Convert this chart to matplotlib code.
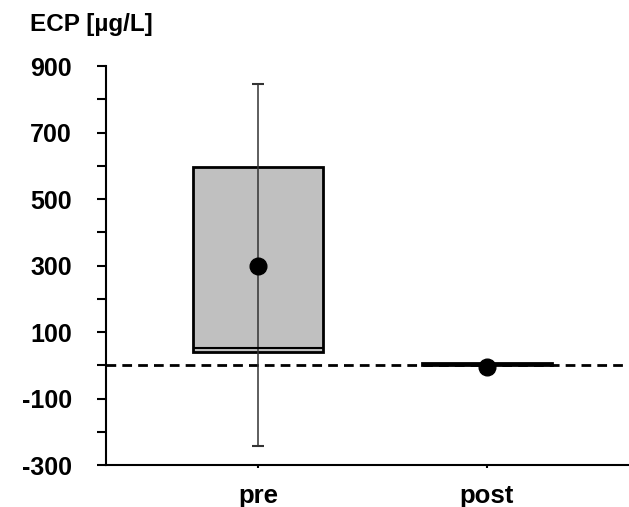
import matplotlib.pyplot as plt

# Daten
groups = ["pre", "post"]
q1 = [39, 0]
q3 = [595, 8]
median = [51, 3]
mean = [300, -6]
whisk_lo = [-244, 0]
whisk_hi = [845, 8]
yticks_major = [-300, -100, 100, 300, 500, 700, 900]
yticks_minor = [-200, 0, 200, 400, 600, 800]

plt.rcParams["font.family"] = ["Liberation Sans", "DejaVu Sans"]
plt.rcParams["font.weight"] = "bold"

fig = plt.figure(figsize=(6.29, 5.07), dpi=100)
ax = fig.add_axes([0.1685, 0.0828, 0.8315, 0.787])

x = [1, 2]
ax.axhline(0, color="black", lw=2, ls=(0, (3.5, 2.2)), zorder=1)

ax.bar(x, [h - l for h, l in zip(q3, q1)], bottom=q1, width=0.57,
       color="#c0c0c0", edgecolor="black", linewidth=2, zorder=2)
# Whisker (gehen durch die Box)
ax.vlines(x, whisk_lo, whisk_hi, color="#333333", lw=1.1, zorder=3)
ax.plot(x, whisk_lo, "_", color="#333333", markersize=8, mew=1.5, zorder=3)
ax.plot(x, whisk_hi, "_", color="#333333", markersize=8, mew=1.5, zorder=3)
ax.hlines(median, [xi - 0.285 for xi in x], [xi + 0.285 for xi in x],
          color="black", lw=1.5, zorder=4)
ax.plot(x, mean, "o", color="black", markersize=12, zorder=5)

ax.set_xlim(0.336, 2.62)
ax.set_ylim(-300, 900)
ax.set_xticks(x)
ax.set_xticklabels(groups, fontsize=18.5, fontweight="bold")
ax.set_yticks(yticks_major)
ax.set_yticks(yticks_minor, minor=True)
ax.set_yticklabels([str(v) for v in yticks_major], fontsize=18, fontweight="bold")
ax.tick_params(axis="y", which="major", length=6.5, width=1.5, pad=18, direction="out")
ax.tick_params(axis="y", which="minor", length=6.5, width=1.5, direction="out")
ax.tick_params(axis="x", which="major", length=2.5, width=1.5, pad=11, direction="out")

for s in ["top", "right"]:
    ax.spines[s].set_visible(False)
for s in ["left", "bottom"]:
    ax.spines[s].set_linewidth(1.5)

fig.text(0.048, 0.951, "ECP [µg/L]", fontsize=17.5, fontweight="bold", va="center", ha="left")

fig.savefig("out.png", dpi=100)
